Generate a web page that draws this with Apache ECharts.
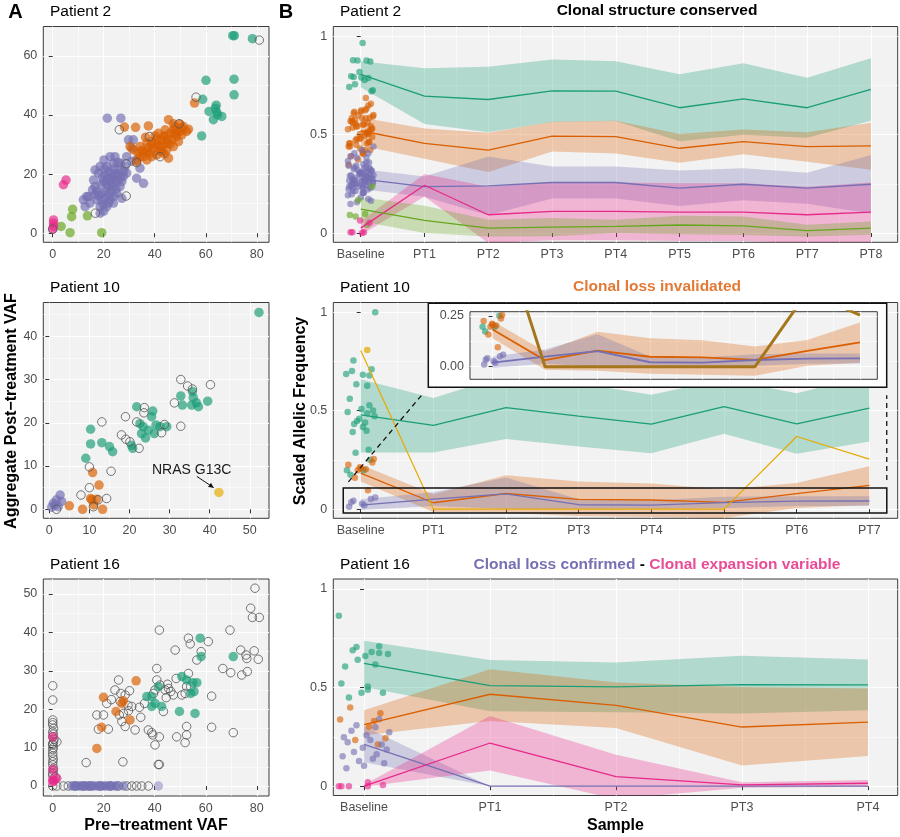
<!DOCTYPE html>
<html><head><meta charset="utf-8">
<script src="https://cdn.jsdelivr.net/npm/echarts@6.0.0/dist/echarts.min.js"></script>
<style>html,body{margin:0;padding:0;background:#fff}#c{width:900px;height:837px}</style>
</head><body><div id="c"></div>
<script>
// ---------------- DATA ----------------
// Panel A: Patient 2  [pre-treatment VAF, aggregate post-treatment VAF]
const p2_green = [[71.2,66.8],[70.6,66.8],[78.3,65.8],[60.1,51.7],[71.1,52.1],[71.1,46.8],[58.8,45.3],[61.3,41.2],[64.1,43.3],[63.8,42.3],[64.6,40.0],[63.0,38.4],[66.3,39.5],[58.4,32.9],[64.3,41.0]];
const p2_orange = [[55.6,44.0],[28.1,35.9],[32.5,35.8],[37.5,36.3],[36.4,32.5],[45.4,38.4],[47.3,37.0],[49.9,36.9],[53.2,35.2],[30.3,29.3],[34.2,29.3],[35.6,27.6],[36.9,30.5],[38.2,27.1],[39.5,28.8],[40.8,31.6],[42.1,29.3],[43.4,32.7],[44.7,30.5],[46.0,33.8],[47.3,35.0],[48.6,32.7],[49.9,34.4],[51.2,36.1],[38.8,25.9],[40.8,26.5],[42.7,27.6],[44.7,28.2],[45.4,25.4],[34.2,25.9],[32.9,24.3],[36.9,24.8],[41.4,33.8],[44.1,35.0],[48.0,36.1],[46.7,31.6],[50.6,33.3],[52.5,34.4],[31.6,28.2],[40.1,32.9],[38.8,31.0],[42.7,31.6],[49.3,31.0],[47.3,29.3],[35.6,25.9],[33.5,27.0],[37.5,29.0],[43.8,26.8],[41.5,28.0],[46.0,30.2],[39.0,30.0],[44.0,33.0],[48.5,34.0],[50.5,35.5],[37.0,27.5],[41.0,30.0],[45.0,31.5],[43.0,29.5],[34.8,28.0],[47.5,33.5]];
const p2_purple = [[21.4,38.9],[26.7,38.9],[31.6,31.6],[34.2,22.0],[35.6,16.9],[32.9,18.6],[31.0,24.3],[12.7,9.0],[14.0,12.4],[15.6,14.7],[16.6,15.8],[17.3,11.3],[18.6,9.0],[18.6,6.8],[19.2,13.5],[19.9,17.5],[20.5,19.7],[21.2,22.6],[21.8,15.8],[22.5,11.3],[23.1,20.3],[23.8,23.7],[24.4,18.0],[25.1,13.5],[25.8,21.4],[26.4,15.8],[27.1,11.8],[27.7,19.2],[28.4,22.6],[29.0,25.9],[20.1,24.8],[17.9,20.3],[16.0,18.0],[14.6,10.2],[13.3,12.4],[19.2,11.3],[20.9,14.1],[23.5,15.8],[25.2,17.5],[17.3,14.1],[22.5,25.9],[24.4,25.9],[26.7,23.7],[18.6,22.6],[16.6,21.4],[12.0,11.3],[21.2,9.0],[23.8,10.2],[27.1,17.5],[29.0,20.3],[31.0,28.8],[32.9,24.8],[29.7,31.6],[20.0,7.5],[22.0,13.0],[24.0,12.5],[19.0,16.5],[21.5,18.5],[23.0,17.0],[26.0,20.0],[20.5,12.0],[22.8,14.5],[24.8,15.0],[21.0,16.8],[19.5,19.0],[22.0,21.0],[24.2,21.8],[25.5,24.0],[20.3,21.8],[23.5,19.0],[18.0,12.8],[16.5,13.0],[26.5,18.5],[27.8,21.0],[21.8,10.2],[19.8,9.8],[24.6,19.8],[22.6,18.2]];
const p2_lgreen = [[13.6,5.9],[7.8,8.1],[7.4,5.6],[3.3,2.3],[6.8,0.2],[19.2,0.2]];
const p2_pink = [[5.2,18.0],[4.2,16.4],[0.3,4.5],[0.3,3.4],[0.3,2.3],[0,1.4]];
const p2_open = [[0,1.4],[16.7,6.8],[28.8,12.6],[28.8,23.5],[32.9,23.9],[26.1,35.0],[37.9,32.7],[42.1,25.9],[49.5,37.0],[56.2,46.0],[81.0,65.3]];

// Panel A: Patient 10
const p10_green = [[52.3,45.5],[39.5,25.0],[32.8,26.2],[33.2,24.1],[35.5,24.1],[35.9,25.8],[35.7,27.2],[36.7,24.6],[37.2,23.7],[21.8,23.7],[25.8,22.7],[25.5,21.4],[23.4,19.1],[24.7,18.3],[22.6,19.8],[26.6,19.5],[27.6,19.1],[29.3,19.1],[23.0,17.5],[24.0,16.5],[26.2,17.5],[20.5,14.8],[20.8,14.1],[10.3,18.5],[10.3,15.1],[13.1,15.4],[15.0,14.5],[15.8,13.3],[9.1,11.8]];
const p10_orange = [[10.8,8.5],[12.4,5.6],[10.3,2.5],[10.6,2.2],[11.8,2.3],[5.0,0.8],[8.3,0],[13.3,0],[11.1,1.0]];
const p10_purple = [[2.7,3.3],[1.8,2.2],[1.0,1.4],[0.6,0.5],[1.4,1.0],[3.1,1.8],[2.2,0.6]];
const p10_yellow = [[42.3,3.9]];
const p10_open = [[32.8,30.0],[34.5,28.5],[35.7,27.8],[40.2,28.8],[31.2,24.6],[23.7,23.5],[23.6,22.3],[19.0,21.4],[13.1,20.2],[21.8,20.2],[28.7,19.6],[28.0,17.7],[32.8,19.2],[18.0,17.2],[19.1,16.2],[20.1,15.6],[22.4,14.1],[15.4,8.8],[10.0,9.8],[10.0,5.0],[7.9,3.3],[14.3,2.5],[12.2,2.2],[11.0,0.6],[1.8,0]];
const nras_label = [35.5, 9.1];
const nras_arrow = [[36.8, 7.6], [41.0, 5.0]];

// Panel A: Patient 16
const p16_green = [[57.8,38.5],[58.2,33.7],[70.8,33.7],[41.4,25.9],[36.9,23.3],[38.8,20.7],[40.1,21.5],[42.7,20.7],[50.6,28.5],[52.5,27.6],[54.9,26.9],[56.5,26.9],[54.1,24.1],[55.4,24.6],[49.7,19.4],[55.8,18.9],[38.8,23.3]];
const p16_orange = [[19.9,23.1],[32.7,27.4],[27.1,21.5],[27.7,22.2],[24.8,19.4],[30.3,17.2],[19.2,15.3],[17.3,9.8]];
const p16_purple = [[7.5,0],[8.5,0],[9.5,0],[10.5,0],[11.4,0],[12.5,0],[13.3,0],[14.2,0],[15.3,0],[16.0,0],[17.3,0],[18.3,0],[19.2,0],[20.3,0],[21.2,0],[22.4,0],[23.1,0],[24.5,0],[25.3,0],[27.8,0]];
const p16_purple_light = [[41.4,0]];
const p16_pink = [[0,12.8],[0,4.3],[0,1.7],[0.5,1.4],[1.6,2.0],[0,1.1]];
const p16_open = [[0,26.1],[0,22.4],[0,17.2],[0,15.9],[0.3,15.0],[0,14.1],[0,12.8],[0.3,11.5],[0,10.7],[0,9.5],[0,7.8],[0,6.3],[0.3,4.6],[0,3.3],[1.0,2.3],[1.6,11.5],[0,0],
[0,16.5],[0.2,13.5],[0,11.0],[0.2,10.0],[0,8.6],[0.2,7.0],[0,5.5],[0.2,4.0],[0,2.8],[0.5,12.2],
[1.6,0],[4.2,0],[6.1,0],[8.8,0],[12.0,0],[14.6,0],[18.6,0],[22.5,0],[25.8,0],[29.0,0],[31.0,0],[32.9,0],[34.9,0],[37.5,0],
[13.1,6.1],[27.5,6.3],[41.4,5.6],[41.8,5.6],
[17.3,18.5],[19.9,18.5],[21.2,21.5],[17.9,14.8],[21.8,14.8],[24.4,25.0],[25.8,27.6],[26.7,24.1],[28.4,23.7],[30.1,24.8],
[26.1,18.5],[27.7,18.9],[29.7,19.6],[31.0,20.7],[27.1,16.8],[28.4,15.5],[32.3,14.6],[34.0,20.5],[34.5,17.9],
[37.5,14.6],[38.8,13.9],[39.2,13.3],[40.1,10.7],[41.8,12.8],[39.5,24.1],[40.1,25.0],[40.8,30.6],[41.8,40.6],[40.8,27.6],[42.1,26.3],
[43.4,19.4],[44.1,25.0],[45.4,25.4],[46.3,24.6],[47.3,23.7],[48.0,35.4],[48.4,28.0],[48.6,12.8],
[50.6,23.7],[51.9,24.1],[52.5,25.9],[53.2,29.3],[53.2,38.5],[53.9,37.0],[52.5,15.5],[52.5,13.3],[51.9,11.3],
[61.0,37.6],[58.2,35.0],[62.3,23.4],[62.3,15.3],[66.7,30.6],[69.5,40.6],[69.8,29.5],[70.8,13.9],
[73.7,35.4],[74.1,28.9],[75.8,34.1],[76.1,33.2],[76.3,29.8],[77.6,46.3],[78.3,43.9],[81.0,43.9],[79.3,51.5],[79.0,35.2],[80.6,33.0],[56.5,32.8],[54.1,25.9],
[26.5,22.0],[23.0,22.5],[29.5,21.0],[36.0,21.5],[44.5,23.0],[45.0,26.5]];

// maximum pre-treatment VAF per patient (scaling for panel B baseline)
const p2_scale = 81, p10_scale = 52.3, p16_scale = 82;
// hand-read horizontal jitter of baseline points (category units)
const jitter = [-0.12,0.15,0.03,-0.18,0.09,-0.05,0.19,-0.09,0.01,0.12,-0.15,0.06,-0.02,0.17,-0.11,0.08,-0.19,0.04,0.13,-0.07,0.11,-0.14,0.00,0.16,-0.04,0.07,-0.17,0.10,-0.08,0.18,-0.01,0.14,-0.13,0.05,-0.16,0.02,0.20,-0.10,0.09,-0.06,0.12,-0.20,0.03];

// Panel B: Patient 2
const p2_cats = ['Baseline','PT1','PT2','PT3','PT4','PT5','PT6','PT7','PT8'];
const p2_green_mean = [0.807,0.696,0.679,0.723,0.721,0.637,0.682,0.637,0.730];
const p2_green_hi   = [0.873,0.838,0.845,0.882,0.873,0.807,0.863,0.789,0.889];
const p2_green_lo   = [0.741,0.554,0.513,0.564,0.569,0.467,0.500,0.485,0.571];
const p2_orange_mean = [0.520,0.456,0.422,0.493,0.490,0.431,0.465,0.439,0.443];
const p2_orange_hi   = [0.588,0.532,0.510,0.566,0.571,0.503,0.527,0.512,0.561];
const p2_orange_lo   = [0.445,0.378,0.310,0.414,0.405,0.358,0.400,0.362,0.322];
const p2_purple_mean = [0.275,0.236,0.240,0.257,0.257,0.228,0.248,0.228,0.248];
const p2_purple_hi   = [0.326,0.287,0.389,0.338,0.338,0.318,0.329,0.307,0.397];
const p2_purple_lo   = [0.224,0.185,0.091,0.176,0.176,0.138,0.167,0.149,0.099];
const p2_pink_mean = [0.025,0.243,0.093,0.110,0.110,0.106,0.106,0.093,0.106];
const p2_pink_hi   = [0.060,0.300,0.236,0.257,0.257,0.253,0.253,0.236,0.257];
const p2_pink_lo   = [-0.010,0.186,-0.050,-0.037,-0.037,-0.041,-0.041,-0.050,-0.045];
const p2_lgreen_mean = [0.122,0.064,0.025,0.030,0.034,0.041,0.037,0.012,0.025];
const p2_lgreen_hi   = [0.182,0.139,0.068,0.076,0.068,0.088,0.084,0.042,0.059];
const p2_lgreen_lo   = [0.060,0.000,-0.018,-0.016,0.000,-0.006,-0.010,-0.018,-0.009];

// Panel B: Patient 10
const p10_cats = ['Baseline','PT1','PT2','PT3','PT4','PT5','PT6','PT7'];
const p10_green_mean = [0.479,0.425,0.516,0.472,0.432,0.521,0.433,0.513];
const p10_green_hi   = [0.660,0.564,0.680,0.640,0.581,0.660,0.589,0.680];
const p10_green_lo   = [0.288,0.288,0.356,0.318,0.284,0.383,0.281,0.344];
const p10_orange_mean = [0.183,0.032,0.079,0.049,0.046,0.034,0.078,0.120];
const p10_orange_hi   = [0.225,0.075,0.172,0.140,0.130,0.100,0.132,0.218];
const p10_orange_lo   = [0.140,-0.015,-0.020,-0.035,-0.040,-0.045,0.005,0.020];
const p10_purple_mean = [0.020,0.050,0.077,0.022,0.020,0.033,0.040,0.041];
const p10_purple_hi   = [0.050,0.085,0.160,0.050,0.045,0.062,0.065,0.065];
const p10_purple_lo   = [-0.005,0.015,0.000,0.000,0.000,0.005,0.015,0.016];
const p10_nras = [0.806,0,0,0,0,0,0.369,0.254];
const p10_zoomX = [-0.24, 7.24];
const p10_zoomY = [-0.02, 0.107];

// Panel B: Patient 16
const p16_cats = ['Baseline','PT1','PT2','PT3','PT4'];
const p16_green_mean = [0.622,0.510,0.503,0.515,0.514];
const p16_green_hi   = [0.737,0.639,0.627,0.661,0.642];
const p16_green_lo   = [0.503,0.380,0.375,0.368,0.385];
const p16_orange_mean = [0.312,0.466,0.410,0.300,0.325];
const p16_orange_hi   = [0.385,0.593,0.525,0.503,0.495];
const p16_orange_lo   = [0.258,0.330,0.295,0.105,0.153];
const p16_purple_mean = [0.212,0,0,0,0];
const p16_purple_hi   = [0.303,0,0,0,0];
const p16_purple_lo   = [0.122,0,0,0,0];
const p16_pink_mean = [0.000,0.219,0.049,0.007,0.015];
const p16_pink_hi   = [0.008,0.356,0.160,0.020,0.032];
const p16_pink_lo   = [-0.003,0.080,-0.065,-0.008,-0.003];

// ---------------- STYLE / LAYOUT ----------------
const FONT = '"Liberation Sans", Arial, Helvetica, sans-serif';
const C = {green:'#1B9E77', orange:'#D95F02', purple:'#7570B3', pink:'#E7298A', lgreen:'#66A61E', yellow:'#E6AB02', brown:'#A6761D'};
const R = {
  a1:[43.3,26.5,225.7,215.8], a2:[43.3,302.5,225.7,215.8], a3:[43.3,579,225.7,217],
  b1:[333.3,26.5,564.4,215.8], b2:[333.3,302.5,564.4,215.8], b3:[333.3,579,564.4,216.5],
  inset:[470,311.7,407.3,67.6]
};
const INSET_BOX = [428.3,303.3,458.4,84];

const grids=[], xAxes=[], yAxes=[], series=[];
const intFmt = v => String(Math.round(v));
function majorAxis(gi, r, vals, fmt, z, hideLab, dim){
  return {type:'value', gridIndex:gi, min:r[0], max:r[1], z, position: dim==='x'?'bottom':'left',
    axisLine:{show:false},
    axisTick:{show:!hideLab, length:4, lineStyle:{color:'#333',width:1}, customValues: vals},
    axisLabel:{show:!hideLab, customValues: vals, formatter: fmt, color:'#4D4D4D', fontSize:12.5, fontFamily:FONT, margin:6},
    splitLine:{show:true, lineStyle:{color:'#FFFFFF', width:1.1}}};
}
function minorAxis(gi, r, vals, z, dim){
  return {type:'value', gridIndex:gi, min:r[0], max:r[1], z, position: dim==='x'?'top':'right',
    axisLine:{show:false}, axisTick:{show:false, customValues: vals}, axisLabel:{show:false, customValues: vals},
    splitLine:{show:true, lineStyle:{color:'#FFFFFF', width:0.55}}};
}
function addPanel(rect, xr, yr, xt, yt, z, hideX){
  z = z||0;
  const gi = grids.length;
  grids.push({left:rect[0], top:rect[1], width:rect[2], height:rect[3], show:true, backgroundColor:'#F2F2F2', borderColor:'#3A3A3A', borderWidth:1, z});
  const xi = xAxes.length, yi = yAxes.length;
  xAxes.push(majorAxis(gi, xr, xt.major, xt.fmt, z, hideX, 'x'));
  xAxes.push(minorAxis(gi, xr, xt.minor, z, 'x'));
  yAxes.push(majorAxis(gi, yr, yt.major, yt.fmt, z, false, 'y'));
  yAxes.push(minorAxis(gi, yr, yt.minor, z, 'y'));
  return {gi, xi, yi};
}
function pts(p, data, color, size, alpha, z){
  series.push({type:'scatter', xAxisIndex:p.xi, yAxisIndex:p.yi, z, silent:true, data, symbolSize:size, itemStyle:{color, opacity:alpha}, clip:true});
}
function openPts(p, data, z){
  series.push({type:'scatter', xAxisIndex:p.xi, yAxisIndex:p.yi, z, silent:true, data, symbolSize:8.5, itemStyle:{color:'rgba(0,0,0,0)', borderColor:'#555', borderWidth:1}, clip:true});
}
function ribbon(p, hi, lo, color, alpha, z){
  series.push({type:'custom', xAxisIndex:p.xi, yAxisIndex:p.yi, z, silent:true, data:[[0,0]],
    renderItem(params, api){
      const q=[];
      for(let i=0;i<hi.length;i++) q.push(api.coord([i,hi[i]]));
      for(let i=lo.length-1;i>=0;i--) q.push(api.coord([i,lo[i]]));
      const cs=params.coordSys;
      return {type:'polygon', shape:{points:q}, style:{fill:color, opacity:alpha},
        clipPath:{type:'rect', shape:{x:cs.x, y:cs.y, width:cs.width, height:cs.height}}};
    }});
}
function line(p, vals, color, width, z){
  series.push({type:'line', xAxisIndex:p.xi, yAxisIndex:p.yi, z, silent:true, symbol:'none', clip:true,
    data: vals.map((v,i)=>[i,v]), lineStyle:{color, width}, itemStyle:{color}});
}
let jc = 0;
function baseline(pre, scale){ return pre.map(d => [jitter[(jc++) % jitter.length], d[0]/scale]); }
const range = (a,b,s) => { const r=[]; for(let v=a; v<=b+1e-9; v+=s) r.push(+v.toFixed(4)); return r; };

// ---------------- PANEL A ----------------
const xtA = {major:[0,20,40,60,80], minor:[10,30,50,70], fmt:intFmt};
const a1 = addPanel(R.a1, [-3.7,84.8], [-3.05,69.9], xtA, {major:[0,20,40,60], minor:[10,30,50], fmt:intFmt});
const a2 = addPanel(R.a2, [-1.5,54.8], [-2.08,47.8], {major:[0,10,20,30,40,50], minor:[5,15,25,35,45], fmt:intFmt}, {major:[0,10,20,30,40], minor:[5,15,25,35,45], fmt:intFmt});
const a3 = addPanel(R.a3, [-3.7,84.8], [-2.6,53.9], xtA, {major:[0,10,20,30,40,50], minor:[5,15,25,35,45], fmt:intFmt});
const SA = 9.5, AA = 0.68;
pts(a1, p2_purple, C.purple, SA, AA, 3); pts(a1, p2_orange, C.orange, SA, AA, 3); pts(a1, p2_green, C.green, SA, AA, 3);
pts(a1, p2_lgreen, C.lgreen, SA, AA, 3); pts(a1, p2_pink, C.pink, SA, AA, 3); openPts(a1, p2_open, 4);
pts(a2, p10_green, C.green, SA, AA, 3); pts(a2, p10_orange, C.orange, SA, AA, 3); pts(a2, p10_purple, C.purple, SA, AA, 3);
pts(a2, p10_yellow, C.yellow, SA, AA, 3); openPts(a2, p10_open, 4);
openPts(a3, p16_open, 3);
pts(a3, p16_green, C.green, SA, AA, 4); pts(a3, p16_orange, C.orange, SA, AA, 4); pts(a3, p16_purple, C.purple, SA, AA, 4);
pts(a3, p16_purple_light, C.purple, SA, 0.45, 4); pts(a3, p16_pink, C.pink, SA, AA, 4);

// ---------------- PANEL B ----------------
const ytB = {major:[0,0.5,1], minor:[0.25,0.75], fmt: v => String(v)};
const catFmt = cats => (v => cats[Math.round(v)]);
const RA = 0.3, SB = 6.5, AB = 0.62, LW = 1.3;

const b1 = addPanel(R.b1, [-0.43,8.42], [-0.047,1.05], {major:range(0,8,1), minor:range(0.5,7.5,1), fmt:catFmt(p2_cats)}, ytB);
[[p2_green_hi,p2_green_lo,C.green],[p2_orange_hi,p2_orange_lo,C.orange],[p2_purple_hi,p2_purple_lo,C.purple],[p2_pink_hi,p2_pink_lo,C.pink],[p2_lgreen_hi,p2_lgreen_lo,C.lgreen]]
  .forEach(r => ribbon(b1, r[0], r[1], r[2], RA, 2));
pts(b1, baseline(p2_green,p2_scale), C.green, SB, AB, 3);
pts(b1, baseline(p2_orange,p2_scale), C.orange, SB, AB, 3);
pts(b1, baseline(p2_purple,p2_scale), C.purple, SB, AB, 3);
pts(b1, baseline(p2_lgreen,p2_scale), C.lgreen, SB, AB, 3);
pts(b1, baseline(p2_pink,p2_scale), C.pink, SB, AB, 3);
line(b1, p2_green_mean, C.green, LW, 4); line(b1, p2_orange_mean, C.orange, LW, 4); line(b1, p2_purple_mean, C.purple, LW, 4);
line(b1, p2_pink_mean, C.pink, LW, 4); line(b1, p2_lgreen_mean, C.lgreen, LW, 4);

const b2 = addPanel(R.b2, [-0.377,7.39], [-0.047,1.05], {major:range(0,7,1), minor:range(0.5,6.5,1), fmt:catFmt(p10_cats)}, ytB);
const b2g = baseline(p10_green,p10_scale), b2o = baseline(p10_orange,p10_scale), b2p = baseline(p10_purple,p10_scale), b2y = baseline(p10_yellow,p10_scale);
[[p10_green_hi,p10_green_lo,C.green],[p10_orange_hi,p10_orange_lo,C.orange],[p10_purple_hi,p10_purple_lo,C.purple]]
  .forEach(r => ribbon(b2, r[0], r[1], r[2], RA, 2));
pts(b2, b2g, C.green, SB, AB, 3); pts(b2, b2o, C.orange, SB, AB, 3); pts(b2, b2p, C.purple, SB, AB, 3); pts(b2, b2y, C.yellow, SB, 0.75, 3);
line(b2, p10_green_mean, C.green, LW, 4); line(b2, p10_orange_mean, C.orange, LW, 4); line(b2, p10_purple_mean, C.purple, LW, 4);
line(b2, p10_nras, C.yellow, 1.2, 4);

const b3 = addPanel(R.b3, [-0.244,4.236], [-0.047,1.05], {major:range(0,4,1), minor:range(0.5,3.5,1), fmt:catFmt(p16_cats)}, ytB);
[[p16_green_hi,p16_green_lo,C.green],[p16_orange_hi,p16_orange_lo,C.orange],[p16_purple_hi,p16_purple_lo,C.purple],[p16_pink_hi,p16_pink_lo,C.pink]]
  .forEach(r => ribbon(b3, r[0], r[1], r[2], RA, 2));
pts(b3, baseline(p16_green,p16_scale), C.green, SB, AB, 3);
pts(b3, baseline(p16_orange,p16_scale), C.orange, SB, AB, 3);
pts(b3, baseline(p16_purple,p16_scale), C.purple, SB, AB, 3);
pts(b3, baseline(p16_pink,p16_scale), C.pink, SB, AB, 3);
line(b3, p16_green_mean, C.green, LW, 4); line(b3, p16_orange_mean, C.orange, LW, 4); line(b3, p16_purple_mean, C.purple, LW, 4); line(b3, p16_pink_mean, C.pink, LW, 4);

// inset (zoom of Patient 10 low range)
const ins = addPanel(R.inset, [-0.43,7.33], [-0.062,0.271], {major:range(0,7,1), minor:range(0.5,6.5,1), fmt:catFmt(p10_cats)}, {major:[0,0.25], minor:[0.125], fmt: v => v.toFixed(2)}, 11, true);
[[p10_green_hi,p10_green_lo,C.green],[p10_orange_hi,p10_orange_lo,C.orange],[p10_purple_hi,p10_purple_lo,C.purple]]
  .forEach(r => ribbon(ins, r[0], r[1], r[2], RA, 13));
pts(ins, b2g, C.green, SB, AB, 14); pts(ins, b2o, C.orange, SB, AB, 14); pts(ins, b2p, C.purple, SB, AB, 14);
line(ins, p10_orange_mean, C.orange, 1.8, 15); line(ins, p10_purple_mean, C.purple, 1.8, 15);
line(ins, p10_nras, C.brown, 3, 16);

const chart = echarts.init(document.getElementById('c'), null, {renderer:'canvas', width:900, height:837});
chart.setOption({animation:false, backgroundColor:'#FFFFFF', grid:grids, xAxis:xAxes, yAxis:yAxes, series});

// ---------------- ANNOTATIONS ----------------
const P = (gi, xy) => chart.convertToPixel({gridIndex: gi}, xy);
function txt(x, y, text, size, o){
  o = o||{};
  const al = o.align||'left';
  return {type:'text', x, y, rotation:o.rot||0, z:50, silent:true,
    style:{text, fill:o.color||'#000', font:(o.bold?'bold ':'')+size+'px '+FONT,
      textAlign:al, align:al, textVerticalAlign:'middle', verticalAlign:'middle', rich:o.rich}};
}
function shorten(x1,y1,x2,y2,d){
  const L=Math.hypot(x2-x1,y2-y1), ux=(x2-x1)/L, uy=(y2-y1)/L;
  return {x1:x1+ux*d, y1:y1+uy*d, x2:x2-ux*d, y2:y2-uy*d};
}
const g = [];
g.push(txt(15.5, 12, 'A', 20, {bold:true, align:'center'}));
g.push(txt(286, 12, 'B', 20, {bold:true, align:'center'}));
g.push(txt(50, 12, 'Patient 2', 15.5)); g.push(txt(50, 288, 'Patient 10', 15.5)); g.push(txt(50, 565, 'Patient 16', 15.5));
g.push(txt(340, 12, 'Patient 2', 15.5)); g.push(txt(340, 288, 'Patient 10', 15.5)); g.push(txt(340, 565, 'Patient 16', 15.5));
g.push(txt(657, 11, 'Clonal structure conserved', 15.5, {bold:true, align:'center'}));
g.push(txt(657, 287, 'Clonal loss invalidated', 15.5, {bold:true, align:'center', color:'#E27A35'}));
g.push(txt(657, 565, '{p|Clonal loss confirmed}{k| - }{q|Clonal expansion variable}', 15.5, {bold:true, align:'center',
  rich:{p:{fill:'#7570B3', font:'bold 15.5px '+FONT}, k:{fill:'#000', font:'bold 15.5px '+FONT}, q:{fill:'#E94B97', font:'bold 15.5px '+FONT}}}));
g.push(txt(12, 411, 'Aggregate Post\u2212treatment VAF', 16, {bold:true, align:'center', rot:Math.PI/2}));
g.push(txt(301, 411, 'Scaled Allelic Frequency', 16, {bold:true, align:'center', rot:Math.PI/2}));
g.push(txt(156, 826, 'Pre\u2212treatment VAF', 16, {bold:true, align:'center'}));
g.push(txt(615.5, 826, 'Sample', 16, {bold:true, align:'center'}));

// NRAS annotation
const nl = P(a2.gi, nras_label), na = P(a2.gi, nras_arrow[0]), nb = P(a2.gi, nras_arrow[1]);
g.push(txt(nl[0], nl[1], 'NRAS G13C', 14, {align:'center', color:'#1a1a1a'}));
g.push({type:'line', z:50, silent:true, shape:{x1:na[0], y1:na[1], x2:nb[0], y2:nb[1]}, style:{stroke:'#111', lineWidth:1}});
(function(){
  const L=Math.hypot(nb[0]-na[0], nb[1]-na[1]), ux=(nb[0]-na[0])/L, uy=(nb[1]-na[1])/L, h=5, w=2.6;
  const bx=nb[0]-ux*h, by=nb[1]-uy*h;
  g.push({type:'polygon', z:50, silent:true, shape:{points:[[nb[0],nb[1]],[bx-uy*w,by+ux*w],[bx+uy*w,by-ux*w]]}, style:{fill:'#111'}});
})();

// inset box + zoom rectangle + connectors
g.push({type:'rect', z:10, silent:true, shape:{x:INSET_BOX[0], y:INSET_BOX[1], width:INSET_BOX[2], height:INSET_BOX[3]}, style:{fill:'#FFFFFF', stroke:'#111', lineWidth:1.5}});
const zt = P(b2.gi, [p10_zoomX[0], p10_zoomY[1]]), zb = P(b2.gi, [p10_zoomX[1], p10_zoomY[0]]);
g.push({type:'rect', z:20, silent:true, shape:{x:zt[0], y:zt[1], width:zb[0]-zt[0], height:zb[1]-zt[1]}, style:{fill:'none', stroke:'#111', lineWidth:1.5}});
g.push({type:'line', z:20, silent:true, shape:shorten(zt[0], zt[1], INSET_BOX[0], INSET_BOX[1]+INSET_BOX[3], 8), style:{stroke:'#111', lineWidth:1.3, lineDash:[5,4]}});
g.push({type:'line', z:20, silent:true, shape:shorten(zb[0], zt[1], INSET_BOX[0]+INSET_BOX[2], INSET_BOX[1]+INSET_BOX[3], 8), style:{stroke:'#111', lineWidth:1.3, lineDash:[5,4]}});

chart.setOption({graphic:{elements:g}});
</script></body></html>
